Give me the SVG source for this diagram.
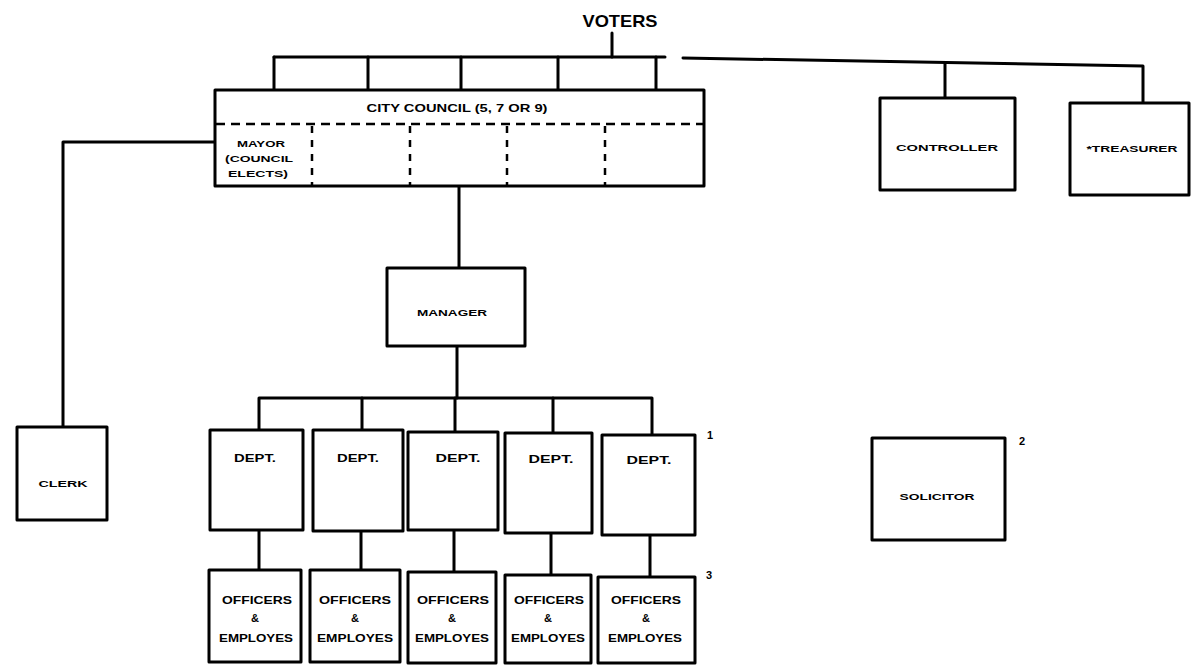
<svg xmlns="http://www.w3.org/2000/svg" width="1191" height="665" viewBox="0 0 1191 665">
<style>
.bx{fill:#fff;stroke:#000;stroke-width:3;stroke-linejoin:round}
.ln{fill:none;stroke:#000;stroke-width:3;stroke-linejoin:round;stroke-linecap:round}
.dh{fill:none;stroke:#000;stroke-width:2.5;stroke-dasharray:9 6}
.dv{fill:none;stroke:#000;stroke-width:2.5;stroke-dasharray:7 7}
text{font-family:"Liberation Sans",Arial,sans-serif;font-weight:bold;fill:#000;text-anchor:middle}
.t{font-size:11px}
.s{font-size:9px}
.fn{font-size:11px}
</style>
<rect width="1191" height="665" fill="#fff"/>
<g id="connectors">
<path class="ln" d="M612,33 V57"/>
<path class="ln" d="M274,57 H665"/>
<path class="ln" d="M683,58 L1143,66 V103"/>
<path class="ln" d="M945,64 V98"/>
<path class="ln" d="M274,57 V90 M368,57 V90 M461,57 V90 M558,57 V90 M656,57 V90"/>
<path class="ln" d="M215,142 H63 V427"/>
<path class="ln" d="M459,186 V268"/>
<path class="ln" d="M457,346 V398"/>
<path class="ln" d="M259,430 V398 H652 V435"/>
<path class="ln" d="M362,398 V430 M455,398 V432 M553,398 V433"/>
<path class="ln" d="M259,530 V570 M361,531 V570 M454,530 V572 M551,533 V575 M650,535 V577"/>
</g>
<g id="voters"><text x="620" y="27" style="font-size:17px" textLength="75" lengthAdjust="spacingAndGlyphs">VOTERS</text></g>
<g id="council">
<rect class="bx" x="215" y="90" width="489" height="96"/>
<path class="dh" d="M216,124 H703"/>
<path class="dv" d="M312,126 V185 M410,126 V185 M507,126 V185 M605,126 V185"/>
<text class="t" x="457" y="112" textLength="181" lengthAdjust="spacingAndGlyphs">CITY COUNCIL (5, 7 OR 9)</text>
<text class="s" x="261" y="147" textLength="48" lengthAdjust="spacingAndGlyphs">MAYOR</text>
<text class="s" x="259" y="162" textLength="68" lengthAdjust="spacingAndGlyphs">(COUNCIL</text>
<text class="s" x="258" y="177" textLength="60" lengthAdjust="spacingAndGlyphs">ELECTS)</text>
</g>
<g id="controller"><rect class="bx" x="880" y="98" width="135" height="92"/><text class="s" x="947" y="151" textLength="102" lengthAdjust="spacingAndGlyphs">CONTROLLER</text></g>
<g id="treasurer"><rect class="bx" x="1070" y="103" width="119" height="92"/><text class="s" x="1132" y="152" textLength="91" lengthAdjust="spacingAndGlyphs">*TREASURER</text></g>
<g id="clerk"><rect class="bx" x="17" y="427" width="90" height="93"/><text class="s" x="63" y="487" textLength="49" lengthAdjust="spacingAndGlyphs">CLERK</text></g>
<g id="manager"><rect class="bx" x="387" y="268" width="138" height="78"/><text class="s" x="452" y="316" textLength="70" lengthAdjust="spacingAndGlyphs">MANAGER</text></g>
<g id="dept1"><rect class="bx" x="210" y="430" width="93" height="100"/><text class="t" x="255" y="462" textLength="42" lengthAdjust="spacingAndGlyphs">DEPT.</text></g>
<g id="dept2"><rect class="bx" x="313" y="430" width="90" height="101"/><text class="t" x="358" y="462" textLength="42" lengthAdjust="spacingAndGlyphs">DEPT.</text></g>
<g id="dept3"><rect class="bx" x="408" y="432" width="90" height="98"/><text class="t" x="458" y="462" textLength="45" lengthAdjust="spacingAndGlyphs">DEPT.</text></g>
<g id="dept4"><rect class="bx" x="505" y="433" width="87" height="100"/><text class="t" x="551" y="463" textLength="45" lengthAdjust="spacingAndGlyphs">DEPT.</text></g>
<g id="dept5"><rect class="bx" x="602" y="435" width="93" height="100"/><text class="t" x="649" y="464" textLength="45" lengthAdjust="spacingAndGlyphs">DEPT.</text></g>
<g id="off1"><rect class="bx" x="209" y="570" width="92" height="92"/><text class="t" x="257" y="604" textLength="70" lengthAdjust="spacingAndGlyphs">OFFICERS</text><text class="t" x="255" y="622">&amp;</text><text class="t" x="256" y="642" textLength="74" lengthAdjust="spacingAndGlyphs">EMPLOYES</text></g>
<g id="off2"><rect class="bx" x="310" y="570" width="90" height="92"/><text class="t" x="355" y="604" textLength="72" lengthAdjust="spacingAndGlyphs">OFFICERS</text><text class="t" x="355" y="622">&amp;</text><text class="t" x="355" y="642" textLength="76" lengthAdjust="spacingAndGlyphs">EMPLOYES</text></g>
<g id="off3"><rect class="bx" x="408" y="572" width="88" height="91"/><text class="t" x="453" y="604" textLength="72" lengthAdjust="spacingAndGlyphs">OFFICERS</text><text class="t" x="452" y="622">&amp;</text><text class="t" x="452" y="642" textLength="74" lengthAdjust="spacingAndGlyphs">EMPLOYES</text></g>
<g id="off4"><rect class="bx" x="505" y="575" width="86" height="88"/><text class="t" x="549" y="604" textLength="70" lengthAdjust="spacingAndGlyphs">OFFICERS</text><text class="t" x="548" y="622">&amp;</text><text class="t" x="548" y="642" textLength="74" lengthAdjust="spacingAndGlyphs">EMPLOYES</text></g>
<g id="off5"><rect class="bx" x="598" y="577" width="97" height="86"/><text class="t" x="646" y="604" textLength="70" lengthAdjust="spacingAndGlyphs">OFFICERS</text><text class="t" x="646" y="622">&amp;</text><text class="t" x="645" y="642" textLength="74" lengthAdjust="spacingAndGlyphs">EMPLOYES</text></g>
<g id="solicitor"><rect class="bx" x="872" y="438" width="133" height="102"/><text class="s" x="937" y="500" textLength="75" lengthAdjust="spacingAndGlyphs">SOLICITOR</text></g>
<g id="footnotes">
<text class="fn" x="710" y="439">1</text>
<text class="fn" x="1022" y="445">2</text>
<text class="fn" x="709" y="579">3</text>
</g>
</svg>
